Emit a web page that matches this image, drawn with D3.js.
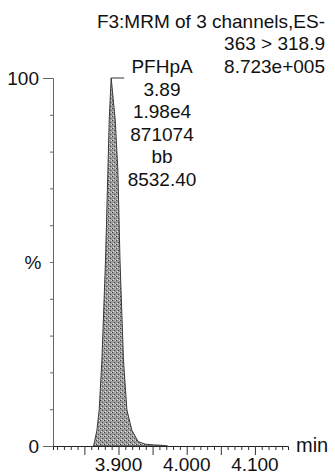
<!DOCTYPE html>
<html><head><meta charset="utf-8">
<script src="https://cdn.jsdelivr.net/npm/d3@7"></script>
<style>body{margin:0;background:#fff}svg{display:block}text{font-family:"Liberation Sans",Arial,sans-serif;fill:#111}</style>
</head><body><svg id="c" width="335" height="476"></svg>
<script>
// Data
const times = [3.8634, 3.8649, 3.8684, 3.8717, 3.8757, 3.8810, 3.8845, 3.8864, 3.8893, 3.8952, 3.8991, 3.9022, 3.9073, 3.9123, 3.9196, 3.9288, 3.939, 3.951, 3.962, 3.972];
const intensity = [0, 1.2, 4.3, 9.8, 23.4, 50.5, 75, 88.6, 100, 88.6, 75, 50.5, 23.4, 9.8, 4.3, 1.2, 0.5, 0.3, 0.2, 0];
const xTickLabels = [3.9, 4.0, 4.1];
const yTickLabels = [0, 100];
const headerLines = ["F3:MRM of 3 channels,ES-", "363 > 318.9", "8.723e+005"];
const peakLabels = ["PFHpA", "3.89", "1.98e4", "871074", "bb", "8532.40"];

const svg = d3.select("#c");
const x = d3.scaleLinear().domain([3.804, 4.1485]).range([53, 288]);
const y = d3.scaleLinear().domain([0, 100]).range([446, 78]);
const fs = 19;

// stipple texture for the peak area
const defs = svg.append("defs");
const pat = defs.append("pattern").attr("id", "stip").attr("patternUnits", "userSpaceOnUse").attr("width", 4).attr("height", 4);
pat.append("rect").attr("width", 4).attr("height", 4).attr("fill", "#9c9c9c");
pat.append("rect").attr("x", 0).attr("y", 0).attr("width", 1).attr("height", 1).attr("fill", "#3c3c3c");
pat.append("rect").attr("x", 2).attr("y", 2).attr("width", 1).attr("height", 1).attr("fill", "#4a4a4a");
pat.append("rect").attr("x", 3).attr("y", 0).attr("width", 1).attr("height", 1).attr("fill", "#d8d8d8");
pat.append("rect").attr("x", 1).attr("y", 3).attr("width", 1).attr("height", 1).attr("fill", "#e0e0e0");

// peak area
const pts = times.map((t, i) => [t, intensity[i]]);
svg.append("path").datum(pts)
  .attr("d", d3.area().x(d => x(d[0])).y0(y(0)).y1(d => y(d[1])))
  .attr("fill", "url(#stip)").attr("stroke", "#3a3a3a").attr("stroke-width", 1);

// y axis
const yAxis = d3.axisLeft(y).tickValues(d3.range(0, 101, 10)).tickSize(3).tickFormat("");
const ga = svg.append("g").attr("transform", "translate(53,0)").call(yAxis);
ga.select(".domain").attr("stroke", "#666");
ga.selectAll(".tick line").attr("stroke", "#666").attr("x2", d => (d === 0 || d === 100) ? -10 : -3);
yTickLabels.forEach(v => {
  svg.append("text").attr("x", 39).attr("y", y(v)).attr("dy", "0.36em").attr("text-anchor", "end").attr("font-size", fs).text(v);
});
svg.append("text").attr("x", 33).attr("y", y(50)).attr("dy", "0.36em").attr("text-anchor", "middle").attr("font-size", fs).text("%");

// x axis
const minor = d3.range(3.81, 4.145, 0.01).map(v => +v.toFixed(2));
const xAxis = d3.axisBottom(x).tickValues(minor).tickSizeOuter(0).tickFormat("").tickSize(4);
const gx = svg.append("g").attr("transform", `translate(0,${y(0)})`).call(xAxis);
gx.select(".domain").attr("stroke", "#222");
gx.selectAll(".tick line").attr("stroke", "#333")
  .attr("y2", d => Math.abs(Math.round(d * 100) % 5) === 0 ? 9 : 4);
xTickLabels.forEach(v => {
  svg.append("text").attr("x", x(v)).attr("y", 471).attr("text-anchor", "middle").attr("font-size", fs).text(v.toFixed(3));
});
svg.append("text").attr("x", 296).attr("y", 452).attr("font-size", fs + 1).text("min");

// header
svg.append("text").attr("x", 325).attr("y", 28).attr("text-anchor", "end").attr("font-size", fs).text(headerLines[0]);
svg.append("text").attr("x", 325).attr("y", 50).attr("text-anchor", "end").attr("font-size", fs).text(headerLines[1]);
svg.append("text").attr("x", 325).attr("y", 73).attr("text-anchor", "end").attr("font-size", fs).text(headerLines[2]);

// peak annotation
const apexX = x(times[intensity.indexOf(100)]);
svg.append("path").attr("d", `M${apexX},${y(100)}H${apexX + 13}`).attr("stroke", "#333").attr("fill", "none");
peakLabels.forEach((s, i) => {
  svg.append("text").attr("x", 162).attr("y", 73 + i * 22.5).attr("text-anchor", "middle").attr("font-size", fs).text(s);
});
</script></body></html>
